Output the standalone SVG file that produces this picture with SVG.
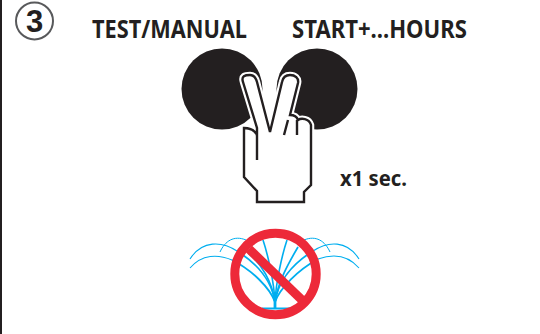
<svg xmlns="http://www.w3.org/2000/svg" width="540" height="334" viewBox="0 0 540 334">
<style>
text{font-family:"Noto Sans","Open Sans","Liberation Sans",sans-serif;font-weight:700;fill:#231f20}
.l{font-size:24.5px}
.h{fill:#fff;stroke:#231f20;stroke-width:2.4;stroke-linejoin:miter}
.c{fill:none;stroke:#231f20;stroke-width:2.4}
.w{fill:#fff;stroke:#fff;stroke-width:6.5;stroke-linejoin:round}
.f{fill:none;stroke:#00aeef}
</style>
<rect width="540" height="334" fill="#fff"/>
<rect x="0" y="0" width="2" height="334" fill="#231f20"/>
<g id="step"><circle cx="34.5" cy="21" r="18.5" fill="#fff" stroke="#58595b" stroke-width="2"/><text x="34.5" y="31.500" font-size="31" text-anchor="middle" style="font-family:'Liberation Sans',sans-serif;font-weight:700">3</text></g>
<g id="label-test"><text class="l" x="92" y="37.500" textLength="155" lengthAdjust="spacingAndGlyphs">TEST/MANUAL</text></g>
<g id="label-start"><text class="l" x="292" y="37.500" textLength="175" lengthAdjust="spacingAndGlyphs">START+...HOURS</text></g>
<g id="btn-left"><circle cx="222" cy="89" r="40.5" fill="#231f20"/></g>
<g id="btn-right"><circle cx="317" cy="89" r="40.5" fill="#231f20"/></g>
<g id="hand">
<path class="w" d="M244 128C250 128 255 131 257 135L257 128L243 82C241 76 245 75 250 75C254 75 256 78 257 82L270 132L282 82C283 77 286 75 290 75C295 75 299 78 298 83L290 115C294 115 297 117 298 120C301 118 309 118 311 125L311 185L304 192L304 202L257 202L257 191L244 177Z"/>
<path class="h" d="M244 128C250 128 255 131 257 135L257 128L243 82C241 76 245 75 250 75C254 75 256 78 257 82L270 132L282 82C283 77 286 75 290 75C295 75 299 78 298 83L290 115C294 115 297 117 298 120C301 118 309 118 311 125L311 185L304 192L304 202L257 202L257 191L244 177Z"/>
<path class="c" d="M257 135L257 160M297 120L297 135M288 120L284 135"/>
</g>
<g id="label-time"><text x="340" y="186" font-size="22" textLength="67" lengthAdjust="spacingAndGlyphs">x1 sec.</text></g>
<g id="fountain">
<path class="f" stroke-width="2.2" d="M262 308.500L295 308.500"/>
<path class="f" stroke-width="2.8" d="M275 309L275 296"/>
<path class="f" stroke-width="1.6" d="M275 302C274 282 268 255 263 240M275 302C276 282 282 255 287 240"/>
<path class="f" stroke-width="1.7" d="M275 302C272 282 262 264 248 253M275 302C278 282 288 264 298 247"/>
<path class="f" stroke-width="1.8" d="M275 302C272 282 258 264 237 251M275 302C278 282 292 264 313 251"/>
<path class="f" stroke-width="1.8" d="M275 302C270 288 252 270 232 260M275 302C280 288 298 270 318 259"/>
<path class="f" stroke-width="1.1" d="M237 251C222 241 202 240 190 259M313 251C328 241 347 240 359 259"/>
<path class="f" stroke-width="1.1" d="M232 260C218 254 202 254 190 268M318 259C332 254 347 254 359 268"/>
<path class="f" stroke-width="1" d="M220 252C225 241 234 235 246 240M330 252C325 241 316 235 304 240"/>
</g>
<g id="prohibit">
<circle cx="275.500" cy="274" r="40.700" fill="none" stroke="#ed2939" stroke-width="9"/>
<path d="M249 249L303 301" stroke="#ed2939" stroke-width="9"/>
</g>
</svg>
